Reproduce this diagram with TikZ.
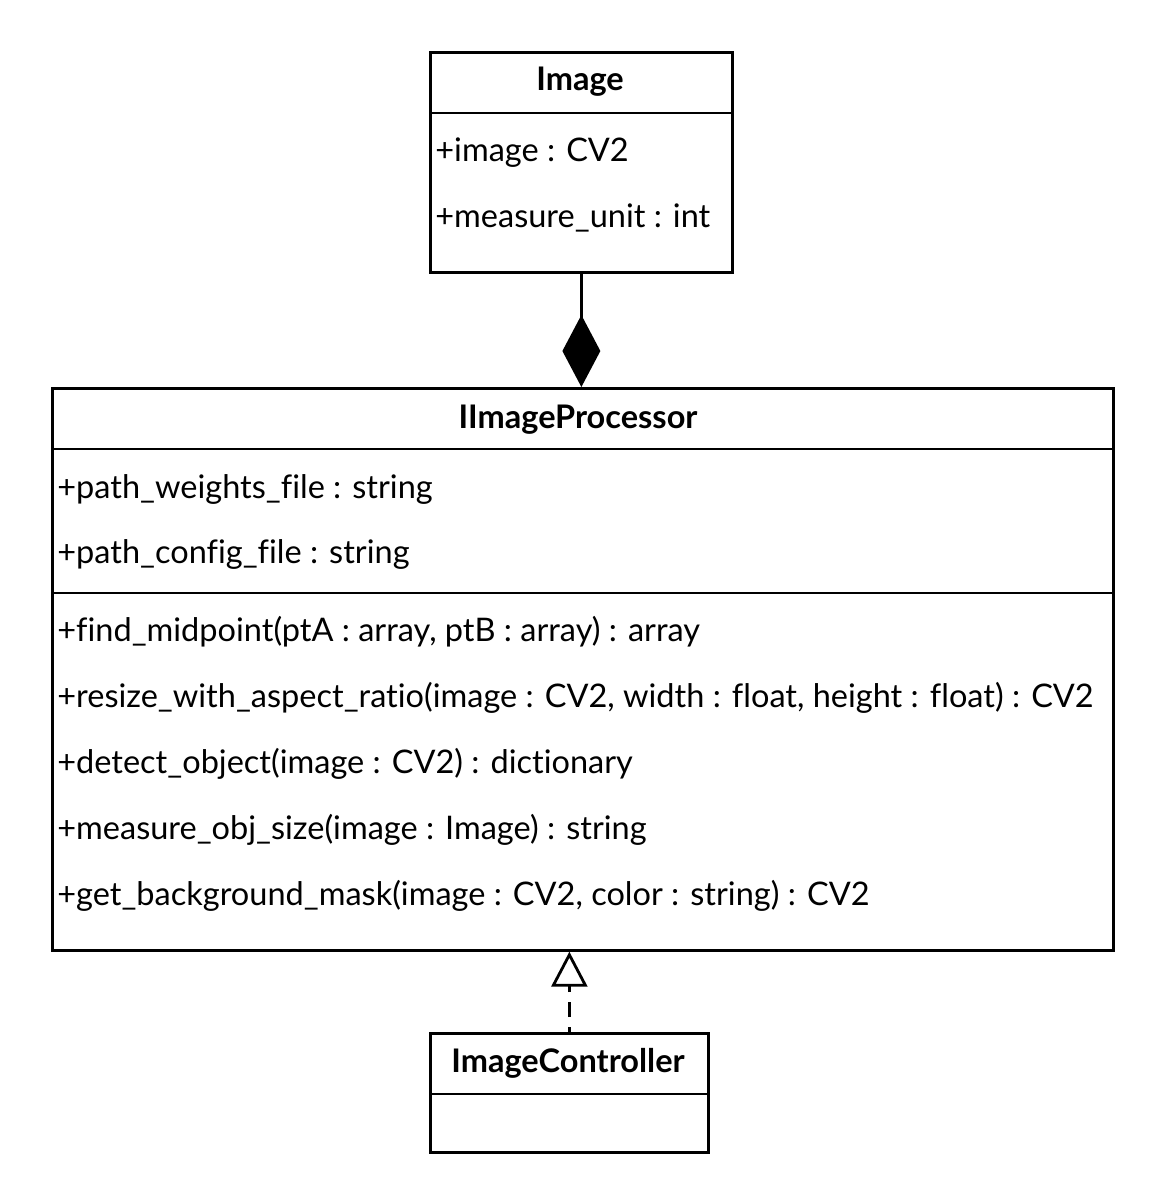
\documentclass[tikz,border=0pt]{standalone}
\usepackage{fontspec}
\setmainfont[Ligatures=NoCommon]{Lato}
\usetikzlibrary{arrows.meta,positioning}
\tikzstyle{cls} = [rectangle, draw=black, line width=1.6pt, inner sep=0pt, anchor=north west]
\tikzstyle{sep} = [line width=1.6pt]
\tikzstyle{attr} = [anchor=base west, inner sep=0pt, font=\fontsize{18.5}{20}\selectfont]
\tikzstyle{title} = [anchor=base, inner sep=0pt, font=\bfseries\fontsize{18.5}{20}\selectfont]

\begin{document}
\begin{tikzpicture}[x=0.02cm,y=-0.02cm]
		\useasboundingbox (1,1) rectangle (1165,1190);
		% classes
		\node[cls,minimum width=6.04cm,minimum height=4.4cm](img) at (430,52){};
		\node[cls,minimum width=21.22cm,minimum height=11.24cm](proc) at (52,388){};
		\node[cls,minimum width=5.56cm,minimum height=2.38cm](ctrl) at (430,1033){};
		
		% Image
		\node[title](imgT) at (581,92){Image};
		\draw[sep] (430,114)--(732,114);
		\node[attr](imgA1) at (436,163){+image : CV2};
		\node[attr](imgA2) at (436,229){+measure\_unit : int};
		
		% IImageProcessor
		\node[title](procT) at (579,429){IImageProcessor};
		\draw[sep] (52,450)--(1113,450);
		\node[attr](procA1) at (58,499){+path\_weights\_file : string};
		\node[attr](procA2) at (58,564){+path\_config\_file : string};
		\draw[sep] (52,594)--(1113,594);
		\node[attr](procM1) at (58,642){+find\_midpoint(ptA : array, ptB : array) : array};
		\node[attr](procM2) at (58,708){+resize\_with\_aspect\_ratio(image : CV2, width : float, height : float) : CV2};
		\node[attr](procM3) at (58,774){+detect\_object(image : CV2) : dictionary};
		\node[attr](procM4) at (58,840){+measure\_obj\_size(image : Image) : string};
		\node[attr](procM5) at (58,906){+get\_background\_mask(image : CV2, color : string) : CV2};
		
		% ImageController
		\node[title](ctrlT) at (569,1073){ImageController};
		\draw[sep] (430,1095)--(708,1095);
		
		\draw[sep,-{Diamond[length=1.44cm,width=0.76cm]}] (img.south)--(img.south |- proc.north);
		\draw[sep,dash pattern=on 0.3cm off 0.2cm,dash phase=0.2cm,-{Triangle[open,length=0.7cm,width=0.72cm]}] (ctrl.north)--(ctrl.north |- proc.south);
\end{tikzpicture}
\end{document}
